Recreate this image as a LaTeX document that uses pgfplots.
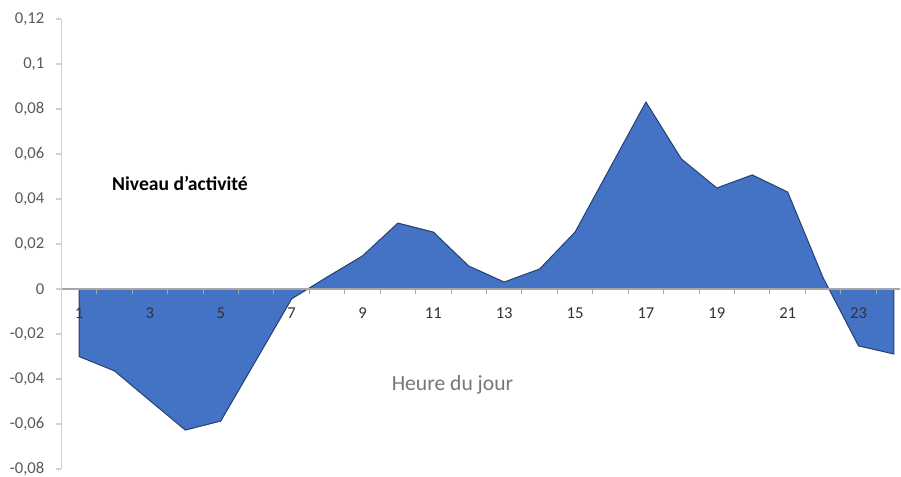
\documentclass[border=0pt]{standalone}
\usepackage{pgfplots}
\pgfplotsset{compat=1.18}
\usepackage{fontspec}
\setmainfont{Carlito}
\usetikzlibrary{calc}
\definecolor{areablue}{HTML}{4472C4}
\definecolor{edgeblue}{HTML}{25406F}
\definecolor{ticklab}{HTML}{595959}
\definecolor{axgray}{HTML}{D0D0D0}
\definecolor{zerogray}{HTML}{A6A6A6}
\definecolor{titlegray}{HTML}{767676}
\pgfplotstableread{
x y
1 -0.0300
2 -0.0364
3 -0.0496
4 -0.0627
5 -0.0587
6 -0.0316
7 -0.0044
8 0.0053
9 0.0147
10 0.0293
11 0.0253
12 0.0102
13 0.0031
14 0.0089
15 0.0253
16 0.0542
17 0.0831
18 0.0578
19 0.0449
20 0.0507
21 0.0431
22 0.0050
23 -0.0253
24 -0.0289
}\activity
\begin{document}
\begin{tikzpicture}
\begin{axis}[
  scale only axis, width=419.35pt, height=225pt,
  xmin=0.5, xmax=24.17, ymin=-0.08, ymax=0.12,
  axis x line=middle, axis y line=left,
  axis line style={-},
  x axis line style={zerogray, line width=0.6pt},
  y axis line style={axgray, line width=0.6pt},
  axis on top,
  clip=false,
  xtick={1,3,...,23},
  major x tick style={draw=none},
  minor xtick={1.5,2.5,...,23.5},
  minor x tick style={zerogray, line width=0.5pt},
  minor tick length=2.5pt,
  tick align=outside,
  ytick={-0.08,-0.06,-0.04,-0.02,0,0.02,0.04,0.06,0.08,0.1,0.12},
  major y tick style={axgray, line width=0.6pt},
  major tick length=2.5pt,
  yticklabel style={text=ticklab, xshift=-2.5pt, font=\fontsize{8.3}{10}\selectfont, /pgf/number format/.cd, use comma, fixed, precision=2, assume math mode=true},
  xticklabel style={text=black!80, yshift=-3.5pt, font=\fontsize{8.3}{10}\selectfont, /pgf/number format/assume math mode=true},
]
\addplot[fill=areablue, draw=edgeblue, line width=0.5pt] table[x=x,y=y] {\activity} \closedcycle;
\coordinate (sw) at (rel axis cs:0,0);
\coordinate (ne) at (rel axis cs:1,1);
\node[font=\fontsize{9.8}{11}\bfseries\selectfont, text=black] at (axis cs:3.85,0.0471) {Niveau d’activité};
\node[font=\fontsize{10.8}{12}\selectfont, text=titlegray] at (axis cs:11.54,-0.0425) {Heure du jour};
\end{axis}
\pgfresetboundingbox
\path[use as bounding box] ($(sw)+(-30.65pt,-4pt)$) rectangle ($(ne)+(0.5pt,9.5pt)$);
\end{tikzpicture}
\end{document}
